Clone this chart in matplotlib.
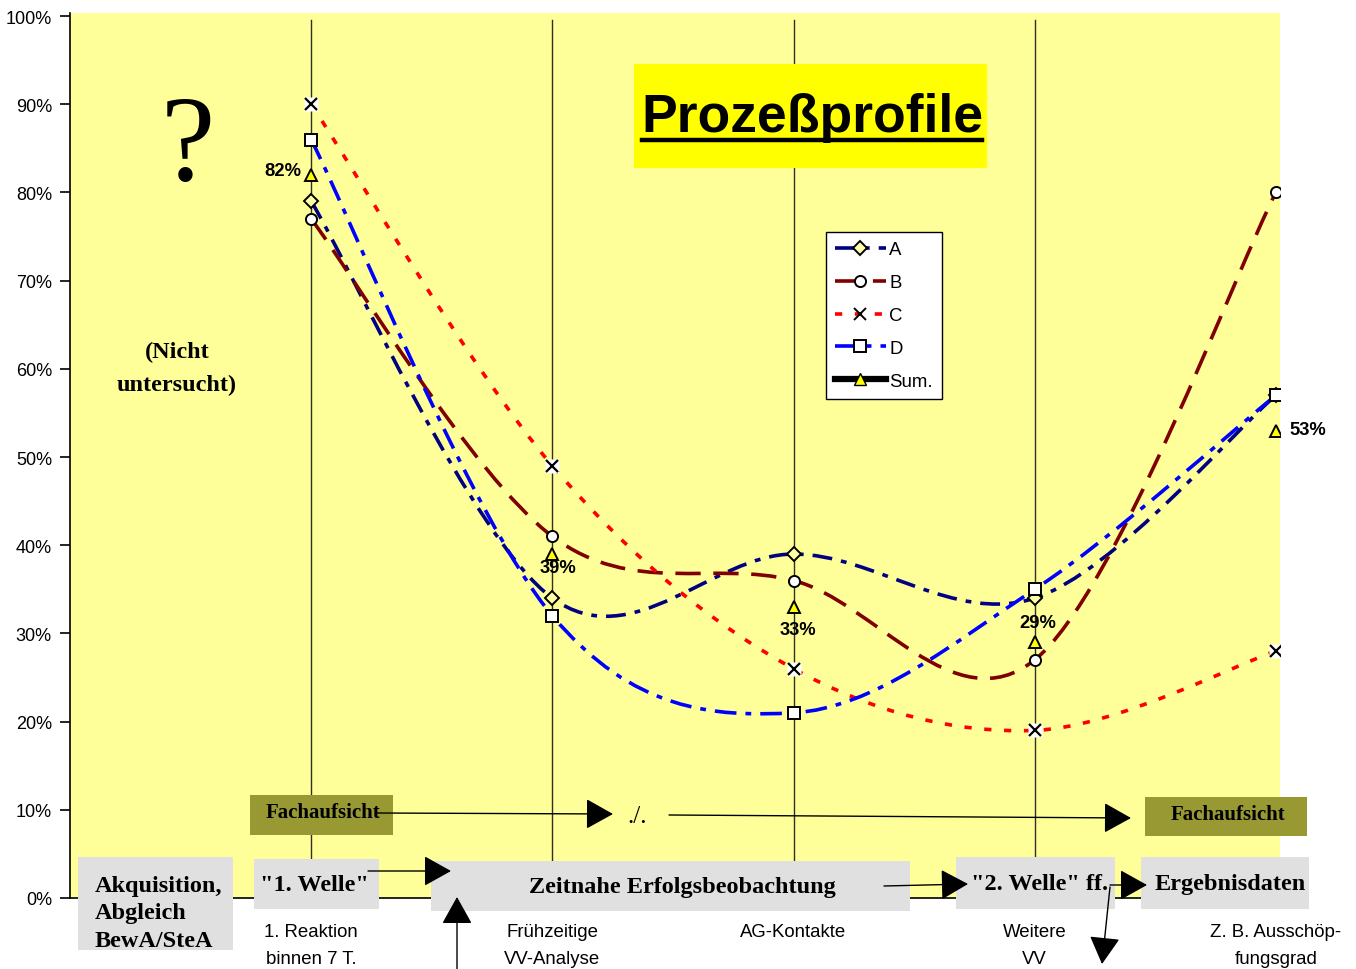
import numpy as np
import matplotlib
matplotlib.use("Agg")
import matplotlib.pyplot as plt
from matplotlib.path import Path
from matplotlib.patches import PathPatch, Rectangle, FancyArrowPatch, ArrowStyle
from matplotlib.lines import Line2D

# --- data ---
categories = ["", "1. Reaktion\nbinnen 7 T.", "Frühzeitige\nVV-Analyse", "AG-Kontakte",
              "Weitere\nVV", "Z. B. Ausschöp-\nfungsgrad"]
x_pos = [1, 2, 3, 4, 5]
series_a = [79, 34, 39, 34, 57]
series_b = [77, 41, 36, 27, 80]
series_c = [90, 49, 26, 19, 28]
series_d = [86, 32, 21, 35, 57]
series_sum = [82, 39, 33, 29, 53]
yticks = list(range(0, 101, 10))

W, H = 1356, 970
SANS = "Liberation Sans"
SERIF = "Liberation Serif"


def fx(px):
    return px / W


def fy(py):
    return 1 - py / H


def smooth_path(xs, ys):
    # Bezier path through the points (like Excel's smoothed line)
    pts = np.column_stack([xs, ys]).astype(float)
    n = len(pts)
    verts = [pts[0]]
    codes = [Path.MOVETO]
    for i in range(n - 1):
        p0 = pts[max(i - 1, 0)]
        p1 = pts[i]
        p2 = pts[i + 1]
        p3 = pts[min(i + 2, n - 1)]
        verts += [p1 + (p2 - p0) / 6, p2 - (p3 - p1) / 6, p2]
        codes += [Path.CURVE4] * 3
    return Path(verts, codes)


fig = plt.figure(figsize=(W / 100, H / 100), dpi=100)
ax = fig.add_axes([fx(70), 1 - 899 / H, (1280 - 70) / W, (899 - 14) / H])
ax.set_facecolor("#ffff99")
ax.set_xlim(0, 5.017)
ax.set_ylim(0, 100.35)

for s in ["top", "right"]:
    ax.spines[s].set_visible(False)
ax.spines["left"].set_linewidth(1.2)
ax.spines["bottom"].set_linewidth(1.2)

ax.set_yticks(yticks)
ax.set_yticklabels([f"{v}%" for v in yticks], fontsize=13, family=SANS)
ax.tick_params(axis="y", direction="out", length=7, width=1.2, pad=6)
ax.set_xticks(range(len(categories)))
ax.set_xticklabels(categories, fontsize=13.4, family=SANS, linespacing=1.75)
ax.tick_params(axis="x", length=0, pad=18)

for xv in x_pos[:-1]:
    ax.axvline(xv, ymin=0, ymax=0.992, color="#303020", lw=1, zorder=1)

line_specs = [
    (series_a, "#000080", (0, (5.5, 2.5, 1.6, 2.5)), "D", "#ffffaa", 7),
    (series_b, "#800000", (0, (7, 3.5)), "o", "white", 8),
    (series_c, "#ff0000", (0, (2, 3.5)), "x", "black", 8),
    (series_d, "#0000ff", (0, (6, 2.5, 1.6, 2.5)), "s", "white", 8),
]
names = ["A", "B", "C", "D"]
handles = []
for (vals, col, ls, mk, mfc, ms), name in zip(line_specs, names):
    patch = PathPatch(smooth_path(x_pos, vals), fill=False, edgecolor=col, lw=2.6,
                      linestyle=ls, capstyle="butt", zorder=3)
    ax.add_patch(patch)
    if mk == "x":
        ax.plot(x_pos, vals, linestyle="none", marker="s", ms=10, mfc="white", mec="none", zorder=4)
        ax.plot(x_pos, vals, linestyle="none", marker="x", ms=8, mec="black", mew=1.6, zorder=5)
    else:
        ax.plot(x_pos, vals, linestyle="none", marker=mk, ms=ms, mfc=mfc, mec="black", mew=1.4, zorder=5)
    handles.append(Line2D([], [], color=col, lw=2.6, linestyle=ls, marker=mk, ms=ms,
                          mfc=mfc if mk != "x" else "black", mec="black", mew=1.4))

ax.plot(x_pos, series_sum, linestyle="none", marker="^", ms=8, mfc="#ffff00", mec="black",
        mew=1.4, zorder=5)
handles.append(Line2D([], [], color="black", lw=4.5, marker="^", ms=8, mfc="#ffff00", mec="black"))

label_offsets = [(-7, 3, "right", "center"), (4, -10, "center", "center"),
                 (3, -16, "center", "center"), (2, 14, "center", "center"),
                 (10, 1, "left", "center")]
for xv, v, (dx, dy, ha, va) in zip(x_pos, series_sum, label_offsets):
    ax.annotate(f"{v}%", (xv, v), xytext=(dx, dy), textcoords="offset points",
                ha=ha, va=va, fontsize=13.2, fontweight="bold", family=SANS, zorder=6)

leg = ax.legend(handles, names + ["Sum."], loc="upper left",
                bbox_to_anchor=((826 - 70) / 1210, (899 - 233) / 885), borderaxespad=0,
                prop={"family": SANS, "size": 13.4}, handlelength=2.7, handletextpad=0.2,
                labelspacing=0.85, borderpad=0.5, fancybox=False, framealpha=1)
leg.get_frame().set_edgecolor("black")
leg.get_frame().set_linewidth(1)
leg.set_zorder(7)

# title box
fig.add_artist(Rectangle((fx(634), fy(169)), (987 - 634) / W, (169 - 65) / H,
                         transform=fig.transFigure, facecolor="#ffff00", edgecolor="none", zorder=2))
fig.text(fx(812), fy(118), "Prozeßprofile", fontsize=38.5, fontweight="bold", family=SANS,
         ha="center", va="center", zorder=3)
fig.add_artist(Line2D([fx(642), fx(982)], [fy(141), fy(141)], transform=fig.transFigure,
                      color="black", lw=3.2, zorder=3))

fig.text(fx(188), fy(150), "?", fontsize=88, family=SERIF, ha="center", va="center", zorder=3)
fig.text(fx(177), fy(369), "(Nicht\nuntersucht)", fontsize=17.5, fontweight="bold", family=SERIF,
         ha="center", va="center", linespacing=1.72, zorder=3)

# boxes in the lower part
boxes = [
    (78, 858, 233, 951, "#e0e0e0"),
    (254, 860, 379, 910, "#e0e0e0"),
    (431, 862, 910, 912, "#e0e0e0"),
    (956, 858, 1115, 910, "#e0e0e0"),
    (1141, 858, 1309, 910, "#e0e0e0"),
    (250, 796, 393, 836, "#999933"),
    (1145, 798, 1307, 837, "#999933"),
]
for x0, y0, x1, y1, col in boxes:
    fig.add_artist(Rectangle((fx(x0), fy(y1)), (x1 - x0) / W, (y1 - y0) / H,
                             transform=fig.transFigure, facecolor=col, edgecolor="none", zorder=2))

box_texts = [
    (95, 914, "Akquisition,\nAbgleich\nBewA/SteA", "left", 17.5),
    (314, 886, "\"1. Welle\"", "center", 17.5),
    (682, 888, "Zeitnahe Erfolgsbeobachtung", "center", 17.5),
    (1040, 885, "\"2. Welle\" ff.", "center", 17.5),
    (1230, 885, "Ergebnisdaten", "center", 17.5),
    (323, 813, "Fachaufsicht", "center", 15),
    (1228, 815, "Fachaufsicht", "center", 15),
]
for x, y, t, ha, fs in box_texts:
    fig.text(fx(x), fy(y), t, fontsize=fs, fontweight="bold", family=SERIF, ha=ha, va="center",
             linespacing=1.38, zorder=3)
fig.text(fx(637), fy(817), "./.", fontsize=18, family=SERIF, ha="center", va="center", zorder=3)

arrows = [
    ((377, 814), (613, 815)),
    ((669, 816), (1131, 819)),
    ((368, 872), (451, 872)),
    ((884, 887), (968, 885)),
    ((1110, 886), (1147, 886)),
    ((1110, 888), (1102, 965)),
    ((457, 970), (457, 898)),
]
style = ArrowStyle("-|>", head_length=0.86, head_width=0.48)
for (x0, y0), (x1, y1) in arrows:
    fig.add_artist(FancyArrowPatch((fx(x0), fy(y0)), (fx(x1), fy(y1)), transform=fig.transFigure,
                                   arrowstyle=style, mutation_scale=20, color="black", lw=1,
                                   shrinkA=0, shrinkB=0, zorder=4))

fig.savefig("out.png", dpi=100)
